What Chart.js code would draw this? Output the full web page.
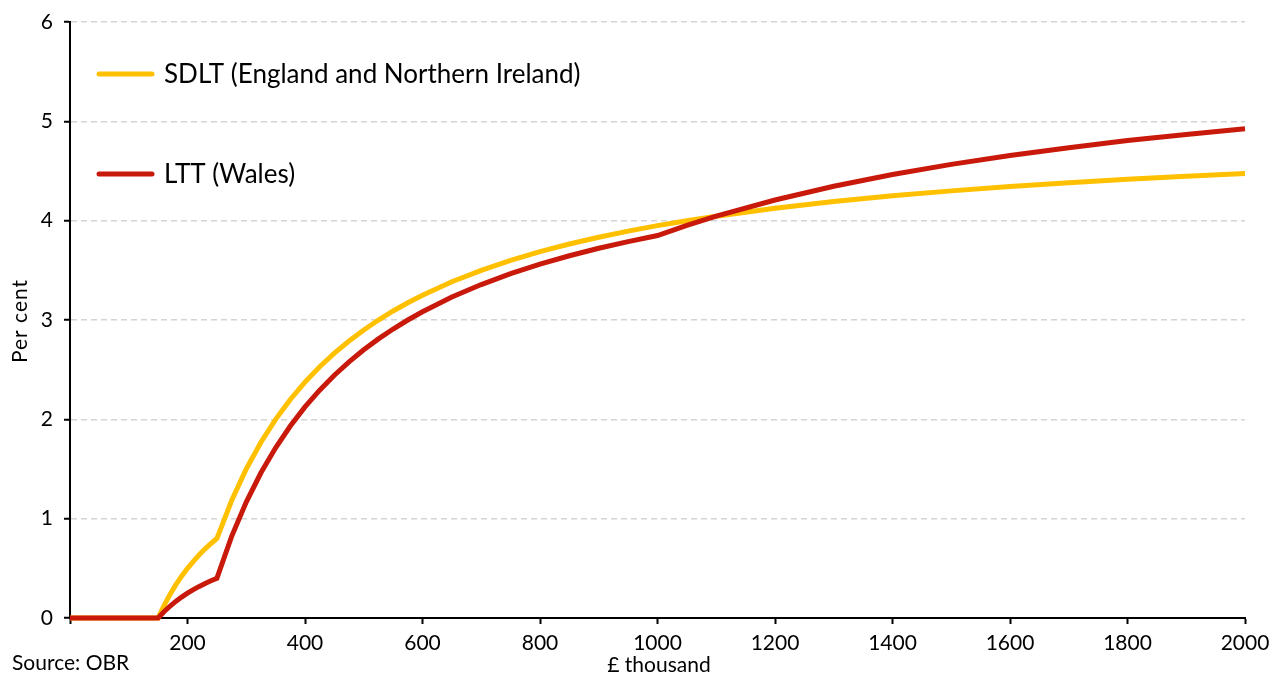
<!DOCTYPE html>
<html lang="en">
<head>
    <meta charset="UTF-8">
    <title>SDLT and LTT effective rates</title>
    <script src="https://cdn.jsdelivr.net/npm/chart.js"></script>
    <style>
        html, body { margin: 0; padding: 0; background: #fff; }
        #wrap { width: 1273px; height: 675px; position: relative; }
    </style>
</head>
<body>
<div id="wrap"><canvas id="chart" width="1273" height="675"></canvas></div>
<script>
    // property value, £ thousand
    var prices = [0, 150, 160, 170, 180, 190, 200, 210, 220, 230, 240, 250,
        275, 300, 325, 350, 375, 400, 425, 450, 475, 500, 525, 550, 575, 600,
        650, 700, 750, 800, 850, 900, 950, 1000, 1050, 1100,
        1200, 1300, 1400, 1500, 1600, 1700, 1800, 1900, 2000];
    // effective rate, per cent
    var sdlt = [0, 0, 0.125, 0.235, 0.333, 0.421, 0.50, 0.571, 0.636, 0.696, 0.75, 0.80,
        1.18, 1.50, 1.77, 2.00, 2.20, 2.375, 2.529, 2.667, 2.789, 2.90, 3.00, 3.091, 3.174, 3.25,
        3.385, 3.50, 3.60, 3.688, 3.765, 3.833, 3.895, 3.95, 4.00, 4.045,
        4.125, 4.192, 4.25, 4.30, 4.344, 4.382, 4.417, 4.447, 4.475];
    var ltt = [0, 0, 0.063, 0.118, 0.167, 0.211, 0.25, 0.286, 0.318, 0.348, 0.375, 0.40,
        0.82, 1.167, 1.462, 1.714, 1.933, 2.125, 2.294, 2.444, 2.579, 2.70, 2.81, 2.909, 3.00, 3.083,
        3.231, 3.357, 3.467, 3.563, 3.647, 3.722, 3.789, 3.85, 3.952, 4.045,
        4.208, 4.346, 4.464, 4.567, 4.656, 4.735, 4.806, 4.868, 4.925];
    var seriesNames = ['SDLT (England and Northern Ireland)', 'LTT (Wales)'];
    var colours = ['#FFC000', '#C8190B'];

    var FONT = 'Lato, "Noto Sans", sans-serif';

    function points(ys) {
        return prices.map(function (p, i) { return { x: p, y: ys[i] }; });
    }

    // legend + extra labels
    var labelsPlugin = {
        id: 'labels',
        afterDraw: function (chart) {
            var c = chart.ctx;
            var a = chart.chartArea;
            c.save();
            // legend
            var rows = [a.top + 52, a.top + 152];
            seriesNames.forEach(function (name, i) {
                c.strokeStyle = colours[i];
                c.lineWidth = 5;
                c.lineCap = 'round';
                c.beginPath();
                c.moveTo(a.left + 29, rows[i]);
                c.lineTo(a.left + 82, rows[i]);
                c.stroke();
                c.fillStyle = '#000';
                c.font = '26px ' + FONT;
                c.textBaseline = 'middle';
                c.textAlign = 'left';
                c.fillText(name, a.left + 94, rows[i] + 1);
            });
            c.fillStyle = '#000';
            c.font = '21px ' + FONT;
            c.textBaseline = 'alphabetic';
            c.textAlign = 'left';
            c.fillText('Source: OBR', 12, 670);
            c.textAlign = 'center';
            c.fillText('\u00a3 thousand', 659, 672);
            c.translate(27, 321);
            c.rotate(-Math.PI / 2);
            c.letterSpacing = '1px';
            c.fillText('Per cent', 0, 0);
            c.restore();
        }
    };

    var ctx = document.getElementById('chart').getContext('2d');
    var chart = new Chart(ctx, {
        type: 'line',
        data: {
            datasets: [{
                label: seriesNames[0],
                data: points(sdlt),
                borderColor: colours[0],
                borderWidth: 5,
                pointRadius: 0,
                tension: 0,
                clip: false,
                order: 2
            }, {
                label: seriesNames[1],
                data: points(ltt),
                borderColor: colours[1],
                borderWidth: 5,
                pointRadius: 0,
                tension: 0,
                clip: false,
                order: 1
            }]
        },
        options: {
            responsive: false,
            animation: false,
            events: [],
            layout: { padding: { top: 22, right: 28, left: 0, bottom: 0 } },
            plugins: { legend: { display: false }, tooltip: { enabled: false } },
            scales: {
                x: {
                    type: 'linear',
                    min: 0,
                    max: 2000,
                    afterFit: function (s) {
                        s.height = 57;
                        s.paddingLeft = 0;
                        s.paddingRight = 0;
                    },
                    ticks: {
                        stepSize: 200,
                        color: '#000',
                        font: { family: FONT, size: 21 },
                        padding: 7,
                        maxRotation: 0,
                        callback: function (v) { return v === 0 ? '' : v; }
                    },
                    grid: { drawOnChartArea: false, drawTicks: true, tickLength: 6, tickColor: '#000', tickWidth: 2, tickBorderDash: [] },
                    border: { color: '#000', width: 2 }
                },
                y: {
                    min: 0,
                    max: 6,
                    afterFit: function (s) {
                        s.width = 70;
                        s.paddingTop = 0;
                        s.paddingBottom = 0;
                    },
                    ticks: {
                        stepSize: 1,
                        color: '#000',
                        font: { family: FONT, size: 21 },
                        padding: 11
                    },
                    grid: {
                        color: '#d4d4d4',
                        lineWidth: 1.5,
                        tickColor: '#000',
                        tickWidth: 2,
                        tickLength: 6,
                        tickBorderDash: []
                    },
                    // in v4 border.dash sets the dash of the grid lines
                    border: { color: '#000', width: 2, dash: [6, 4] }
                }
            }
        },
        plugins: [labelsPlugin]
    });
</script>
</body>
</html>
